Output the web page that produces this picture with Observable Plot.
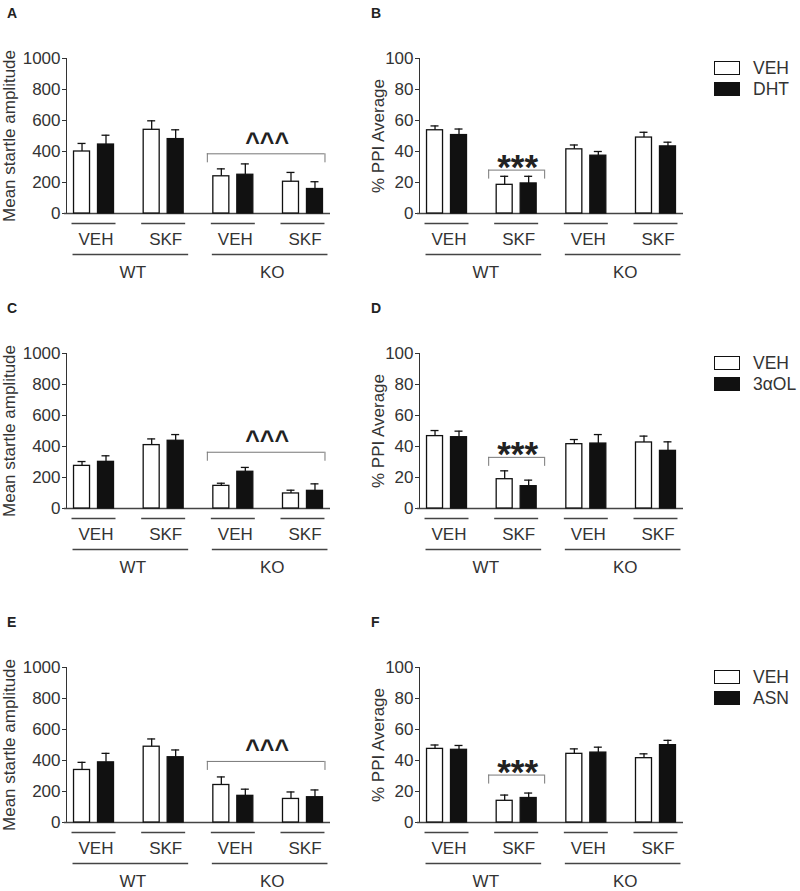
<!DOCTYPE html>
<html><head><meta charset="utf-8">
<script src="https://cdn.jsdelivr.net/npm/d3@7"></script>
<script src="https://cdn.jsdelivr.net/npm/@observablehq/plot@0.6"></script>
<style>
html,body{margin:0;padding:0;background:#fff;overflow:hidden}
#root{position:relative;width:800px;height:891px;font-family:'Liberation Sans',Arial,sans-serif;color:#333}
.panel{position:absolute}
.letter{position:absolute;font-weight:bold;font-size:14px;line-height:14px;color:#222}
.lg-text{position:absolute;font-size:17.5px;line-height:17px;color:#333}
.sw{position:absolute;width:26px;height:14px;box-sizing:border-box;border:1.5px solid #111}
</style></head>
<body><div id="root"></div>
<script>
// ---------- data ----------
const conditions = ["WT VEH", "WT SKF", "KO VEH", "KO SKF"];
const conditionLabels = ["VEH", "SKF", "VEH", "SKF"];
const genotypes = ["WT", "KO"];
const startleTicks = [0, 200, 400, 600, 800, 1000];
const ppiTicks = [0, 20, 40, 60, 80, 100];
const startleLabel = "Mean startle amplitude";
const ppiLabel = "% PPI Average";
const vehicleName = "VEH";

// Panel A (startle, DHT)
const aVeh = [400, 540, 240, 205];
const aVehErr = [52, 58, 48, 60];
const aDrug = [445, 480, 250, 158];
const aDrugErr = [60, 60, 70, 47];
// Panel B (PPI, DHT)
const bVeh = [53.7, 18.5, 41.4, 49.0];
const bVehErr = [2.8, 5.5, 2.8, 3.4];
const bDrug = [50.6, 19.4, 37.3, 43.3];
const bDrugErr = [3.9, 4.6, 2.7, 2.7];
// Panel C (startle, 3αOL)
const cVeh = [275, 409, 146, 97];
const cVehErr = [28, 40, 17, 21];
const cDrug = [301, 437, 237, 114];
const cDrugErr = [39, 40, 28, 45];
// Panel D (PPI, 3αOL)
const dVeh = [46.7, 18.9, 41.5, 42.6];
const dVehErr = [3.6, 5.4, 3.0, 4.1];
const dDrug = [46.0, 14.4, 41.9, 37.2];
const dDrugErr = [3.9, 3.9, 5.8, 5.8];
// Panel E (startle, ASN)
const eVeh = [339, 489, 242, 152];
const eVehErr = [49, 50, 52, 45];
const eDrug = [388, 421, 172, 163];
const eDrugErr = [58, 47, 43, 47];
// Panel F (PPI, ASN)
const fVeh = [47.5, 14.0, 44.3, 41.5];
const fVehErr = [2.5, 3.7, 3.2, 2.8];
const fDrug = [46.9, 15.8, 45.1, 49.9];
const fDrugErr = [2.8, 3.2, 3.5, 3.1];

const drugNames = ["DHT", "3αOL", "ASN"];
// significance brackets: [first condition, last condition, symbol]
const startleSig = ["KO VEH", "KO SKF", "^^^"];
const ppiSig = ["WT SKF", "WT SKF", "***"];
const sigHeights = [385, 28, 363, 33, 394, 30.6];

// ---------- layout / style ----------
const W = 360, H = 235, ML = 66, MR = 30, MT = 12, MB = 68;
const PI = 0.426, PO = 0.108;
const BAR = 16, CAP = 8, TICK = 9;
const FS = 17;
const LINE = "#444", INK = "#111";
const colLeft = [0, 353];
const rowTop = [46, 341, 655];

const panels = [
  {letter: "A", veh: aVeh, vehErr: aVehErr, drug: aDrug, drugErr: aDrugErr, kind: "startle", row: 0, col: 0, sigH: sigHeights[0]},
  {letter: "B", veh: bVeh, vehErr: bVehErr, drug: bDrug, drugErr: bDrugErr, kind: "ppi", row: 0, col: 1, sigH: sigHeights[1], drugName: drugNames[0]},
  {letter: "C", veh: cVeh, vehErr: cVehErr, drug: cDrug, drugErr: cDrugErr, kind: "startle", row: 1, col: 0, sigH: sigHeights[2]},
  {letter: "D", veh: dVeh, vehErr: dVehErr, drug: dDrug, drugErr: dDrugErr, kind: "ppi", row: 1, col: 1, sigH: sigHeights[3], drugName: drugNames[1]},
  {letter: "E", veh: eVeh, vehErr: eVehErr, drug: eDrug, drugErr: eDrugErr, kind: "startle", row: 2, col: 0, sigH: sigHeights[4]},
  {letter: "F", veh: fVeh, vehErr: fVehErr, drug: fDrug, drugErr: fDrugErr, kind: "ppi", row: 2, col: 1, sigH: sigHeights[5], drugName: drugNames[2]}
];

const root = document.getElementById("root");

function makePanel(p) {
  const data = conditions.map((c, i) => ({
    cond: c, label: conditionLabels[i],
    veh: p.veh[i], vehTop: p.veh[i] + p.vehErr[i],
    drug: p.drug[i], drugTop: p.drug[i] + p.drugErr[i]
  }));
  const groups = genotypes.map(g => ({g, first: g + " VEH", last: g + " SKF"}));
  const sigDef = p.kind === "startle" ? startleSig : ppiSig;
  const sig = [{first: sigDef[0], last: sigDef[1], symbol: sigDef[2], y: p.sigH}];
  const pair = sigDef[0] === sigDef[1];

  const xs = d3.scaleBand().domain(conditions).range([ML, W - MR]).paddingInner(PI).paddingOuter(PO);
  const bw = xs.bandwidth(), step = xs.step();
  const ticks = p.kind === "startle" ? startleTicks : ppiTicks;
  const sL = pair ? 8 : 6, sR = pair ? 8 : 2;

  const plot = Plot.plot({
    width: W, height: H, marginLeft: ML, marginRight: MR, marginTop: MT, marginBottom: MB,
    style: {fontSize: FS + "px", fontFamily: "'Liberation Sans', Arial, sans-serif", color: "#333", background: "transparent", overflow: "visible"},
    x: {type: "band", domain: conditions, paddingInner: PI, paddingOuter: PO, round: false, axis: null},
    y: {domain: [0, ticks[ticks.length - 1]], ticks, tickFormat: "d", tickSize: 4, tickPadding: 2, line: true,
        label: p.kind === "startle" ? startleLabel : ppiLabel, labelAnchor: "center", labelArrow: false,
        labelOffset: p.kind === "startle" ? 64 : 48},
    marks: [
      Plot.ruleY([0], {insetLeft: -2, stroke: LINE, strokeWidth: 1.4}),
      Plot.barY(data, {x: "cond", y: "veh", fill: "white", stroke: INK, strokeWidth: 1.3, insetRight: bw - BAR}),
      Plot.barY(data, {x: "cond", y: "drug", fill: INK, stroke: INK, strokeWidth: 1.3, insetLeft: bw - BAR}),
      Plot.ruleX(data, {x: "cond", y1: "veh", y2: "vehTop", dx: -(bw - BAR) / 2, stroke: INK, strokeWidth: 1.3}),
      Plot.ruleX(data, {x: "cond", y1: "drug", y2: "drugTop", dx: (bw - BAR) / 2, stroke: INK, strokeWidth: 1.3}),
      Plot.tickY(data, {x: "cond", y: "vehTop", insetLeft: (BAR - CAP) / 2, insetRight: bw - (BAR + CAP) / 2, stroke: INK, strokeWidth: 1.3}),
      Plot.tickY(data, {x: "cond", y: "drugTop", insetLeft: bw - (BAR + CAP) / 2, insetRight: (BAR - CAP) / 2, stroke: INK, strokeWidth: 1.3}),
      // condition underlines and labels
      Plot.ruleY(data, {x1: "cond", x2: "cond", y: 0, dy: 10, insetLeft: -2, insetRight: -2, stroke: LINE, strokeWidth: 1.4}),
      Plot.text(data, {x: "cond", y: 0, text: "label", dy: 26, dx: 2, lineAnchor: "middle", fontSize: FS}),
      // genotype underlines and labels
      Plot.ruleY(groups, {x1: "first", x2: "last", y: 0, dy: 41, insetLeft: -1, insetRight: -5, stroke: LINE, strokeWidth: 1.4}),
      Plot.text(groups, {x: "first", y: 0, text: "g", dx: step / 2 + 4, dy: 59, lineAnchor: "middle", fontSize: FS}),
      // significance bracket
      Plot.ruleY(sig, {x1: "first", x2: "last", y: "y", insetLeft: -sL, insetRight: -sR, stroke: "#777", strokeWidth: 1}),
      Plot.ruleX(sig, {x: "first", y1: "y", y2: "y", insetBottom: -TICK, dx: -bw / 2 - sL, stroke: "#777", strokeWidth: 1}),
      Plot.ruleX(sig, {x: "last", y1: "y", y2: "y", insetBottom: -TICK, dx: bw / 2 + sR, stroke: "#777", strokeWidth: 1}),
      Plot.text(sig, {x: "first", y: "y", text: "symbol", dx: pair ? 1 : step / 2 - 1, dy: pair ? 9 : -3,
        lineAnchor: "bottom", fontWeight: "bold", fontSize: pair ? 35 : 25, fill: "#222"})
    ]
  });
  plot.classList.add("panel");
  plot.style.left = colLeft[p.col] + "px";
  plot.style.top = rowTop[p.row] + "px";
  root.appendChild(plot);

  const L = document.createElement("div");
  L.className = "letter";
  L.textContent = p.letter;
  L.style.left = (p.col ? 371 : 7) + "px";
  L.style.top = (rowTop[p.row] + MT - 52) + "px";
  root.appendChild(L);

  if (p.drugName) {
    const top = rowTop[p.row] + MT;
    const entries = [[vehicleName, "white"], [p.drugName, INK]];
    entries.forEach(([name, fill], k) => {
      const s = document.createElement("div");
      s.className = "sw";
      s.style.background = fill;
      s.style.left = "714px";
      s.style.top = (top + 3 + k * 21) + "px";
      root.appendChild(s);
      const t = document.createElement("div");
      t.className = "lg-text";
      t.textContent = name;
      t.style.left = "753px";
      t.style.top = (top + 2 + k * 21) + "px";
      root.appendChild(t);
    });
  }
}
panels.forEach(makePanel);
</script>
</body></html>
